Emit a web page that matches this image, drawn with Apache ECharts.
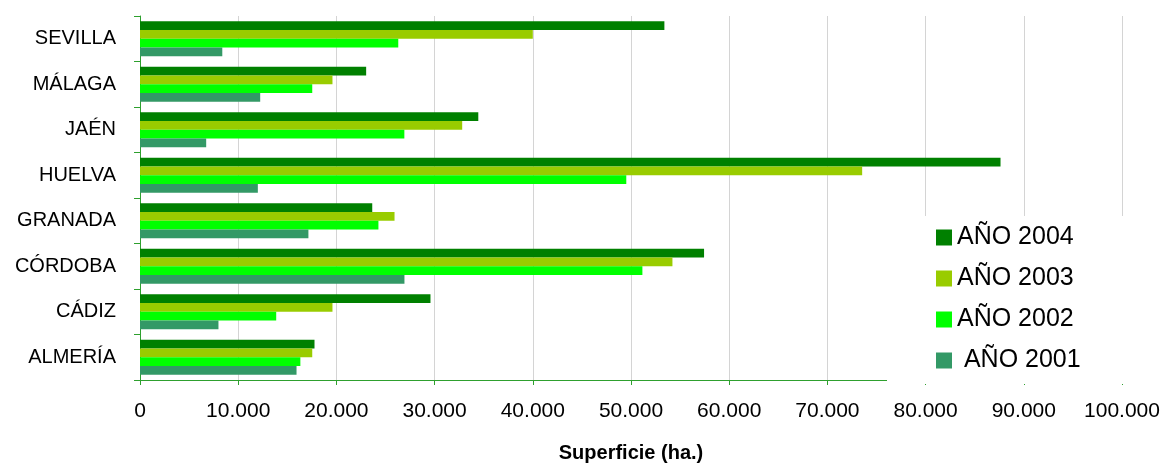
<!DOCTYPE html>
<html>
<head>
<meta charset="utf-8">
<script src="https://cdn.jsdelivr.net/npm/echarts@6/dist/echarts.min.js"></script>
<style>
html,body{margin:0;padding:0;background:#fff;overflow:hidden;}
#chart{width:1163px;height:464px;}
</style>
</head>
<body>
<div id="chart"></div>
<script>
// Categories, bottom to top
var categories = ['ALMERÍA', 'CÁDIZ', 'CÓRDOBA', 'GRANADA', 'HUELVA', 'JAÉN', 'MÁLAGA', 'SEVILLA'];
var seriesNames = ['AÑO 2004', 'AÑO 2003', 'AÑO 2002', 'AÑO 2001'];
var values2004 = [17770, 29580, 57440, 23650, 87630, 34450, 23030, 53400];
var values2003 = [17540, 19600, 54220, 25920, 73540, 32810, 19600, 40000];
var values2002 = [16330, 13870, 51160, 24280, 49520, 26920, 17540, 26300];
var values2001 = [15940, 7990, 26930, 17150, 12000, 6740, 12240, 8380];
var xTicks = [0, 10000, 20000, 30000, 40000, 50000, 60000, 70000, 80000, 90000, 100000];
var axisTitle = 'Superficie (ha.)';

var colors = ['#008000', '#99CC00', '#00FF00', '#339966'];
var allValues = [values2004, values2003, values2002, values2001];
var font = '"Liberation Sans", Arial, sans-serif';

function fmt(v) {
  if (v === 0) return '0';
  return String(v).replace(/\B(?=(\d{3})+(?!\d))/g, '.');
}

var chart = echarts.init(document.getElementById('chart'), null, {renderer: 'canvas', width: 1163, height: 464});
var series = seriesNames.map(function (name, i) {
  return {
    name: name,
    type: 'bar',
    data: allValues[i],
    itemStyle: {color: colors[i]},
    barGap: '0%',
    barCategoryGap: '23%',
    animation: false
  };
});

chart.setOption({
  animation: false,
  backgroundColor: '#ffffff',
  grid: {left: 140, width: 982, top: 16, height: 364, containLabel: false, outerBoundsMode: 'none'},
  legend: {
    data: seriesNames,
    orient: 'vertical',
    left: 887,
    top: 216,
    icon: 'rect',
    itemWidth: 16,
    itemHeight: 16,
    itemGap: 16,
    padding: [9, 80, 11, 49],
    backgroundColor: '#ffffff',
    selectedMode: false,
    formatter: function (n) { return n === 'AÑO 2001' ? ' ' + n : n; },
    textStyle: {fontSize: 25, color: '#000', fontFamily: font, lineHeight: 25}
  },
  xAxis: {
    type: 'value',
    min: xTicks[0],
    max: xTicks[xTicks.length - 1],
    interval: xTicks[1] - xTicks[0],
    name: axisTitle,
    nameLocation: 'middle',
    nameGap: 63,
    nameTextStyle: {fontSize: 20, fontWeight: 'bold', color: '#000', fontFamily: font},
    axisLine: {show: true, lineStyle: {color: '#2ea02e', width: 1}},
    axisTick: {show: true, length: 5, lineStyle: {color: '#2ea02e'}},
    axisLabel: {fontSize: 21, color: '#000', fontFamily: font, margin: 21, formatter: fmt},
    splitLine: {show: true, lineStyle: {color: '#d4d4d4', width: 1}}
  },
  yAxis: {
    type: 'category',
    data: categories,
    axisLine: {show: true, lineStyle: {color: '#2ea02e', width: 1}},
    axisTick: {show: true, length: 6, lineStyle: {color: '#2ea02e'}},
    axisLabel: {fontSize: 20, color: '#000', fontFamily: font, margin: 24},
    splitLine: {show: false}
  },
  series: series
});
</script>
</body>
</html>
